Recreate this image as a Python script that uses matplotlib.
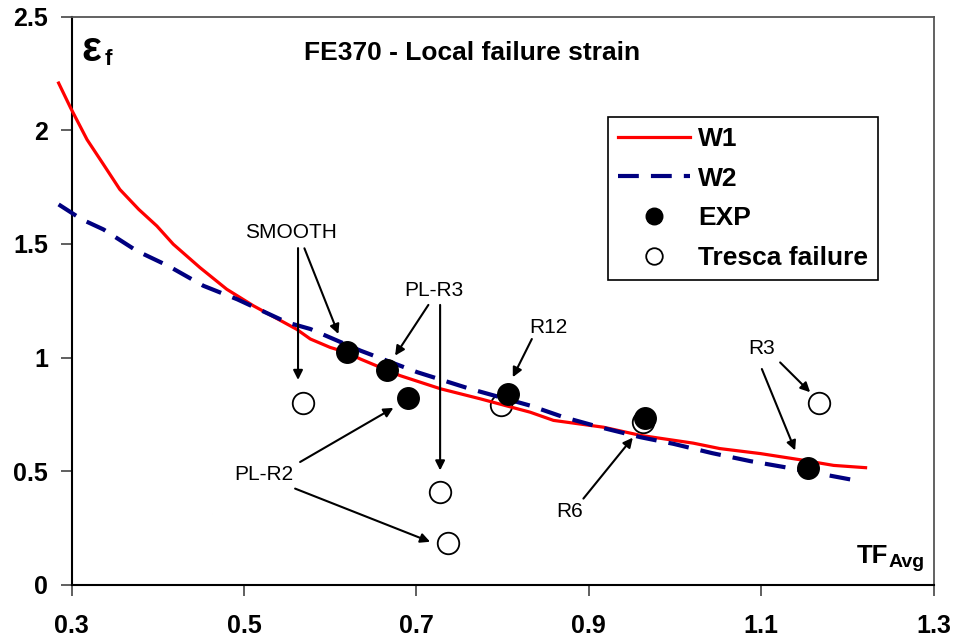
import numpy as np
import matplotlib
matplotlib.use("Agg")
import matplotlib.pyplot as plt

plt.rcParams['font.family'] = ['Liberation Sans', 'DejaVu Sans']

# ---- data ----
w1_x = [0.285, 0.299, 0.318, 0.337, 0.356, 0.378, 0.399, 0.418, 0.449, 0.480,
        0.511, 0.561, 0.577, 0.600, 0.619, 0.635, 0.681, 0.728, 0.774, 0.832, 0.859,
        0.917, 0.960, 1.021, 1.052, 1.099, 1.145, 1.184, 1.221]
w1_y = [2.208, 2.098, 1.959, 1.850, 1.740, 1.652, 1.579, 1.499, 1.396, 1.301,
        1.228, 1.125, 1.082, 1.045, 1.023, 0.994, 0.921, 0.863, 0.819, 0.760, 0.724,
        0.694, 0.658, 0.624, 0.600, 0.578, 0.551, 0.526, 0.516]

w2_x = [0.285, 0.312, 0.337, 0.376, 0.412, 0.453, 0.492, 0.550, 0.577, 0.635,
        0.701, 0.762, 0.832, 0.871, 0.913, 0.960, 0.998, 1.043, 1.087, 1.126, 1.215]
w2_y = [1.674, 1.608, 1.564, 1.469, 1.404, 1.316, 1.257, 1.155, 1.126, 1.031,
        0.936, 0.863, 0.789, 0.738, 0.694, 0.650, 0.621, 0.580, 0.545, 0.519, 0.456]

exp_x = [0.620, 0.666, 0.690, 0.806, 0.965, 1.154]
exp_y = [1.026, 0.946, 0.822, 0.838, 0.734, 0.514]

tresca_x = [0.568, 0.7275, 0.737, 0.798, 0.963, 1.167]
tresca_y = [0.800, 0.409, 0.184, 0.790, 0.716, 0.800]

x_ticks = [0.3, 0.5, 0.7, 0.9, 1.1, 1.3]
x_tick_labels = ['0.3', '0.5', '0.7', '0.9', '1.1', '1.3']
y_ticks = [0, 0.5, 1, 1.5, 2, 2.5]
y_tick_labels = ['0', '0.5', '1', '1.5', '2', '2.5']

# annotation labels and their positions
ann_labels = ['SMOOTH', 'PL-R3', 'R12', 'R3', 'R6', 'PL-R2']
ann_pos = [(0.555, 1.55), (0.720, 1.294), (0.853, 1.132), (1.101, 1.041),
           (0.878, 0.322), (0.5225, 0.487)]
arrow_tails = [(0.5627, 1.482), (0.5701, 1.481), (0.7139, 1.232), (0.7275, 1.232),
               (0.8339, 1.082), (1.1007, 0.950), (1.1219, 0.979), (0.8937, 0.380),
               (0.5651, 0.541), (0.5593, 0.424)]
arrow_heads = [(0.5627, 0.902), (0.6095, 1.104), (0.6753, 1.009), (0.7275, 0.504),
               (0.8118, 0.914), (1.1393, 0.592), (1.1567, 0.848), (0.951, 0.648),
               (0.6733, 0.779), (0.7159, 0.190)]

# ---- figure ----
fig = plt.figure(figsize=(9.54, 6.41), dpi=100)
ax = fig.add_axes([0.075, 0.0874, 0.9037, 0.8866])
ax.set_xlim(0.3, 1.3)
ax.set_ylim(0, 2.5)

ax.plot(w1_x, w1_y, color='#ff0000', lw=2.3, zorder=3, clip_on=False, label='W1')
ax.plot(w2_x, w2_y, color='#000080', lw=3, linestyle=(0, (5.0, 2.9)),
        zorder=3, clip_on=False, label='W2')
ax.plot(exp_x, exp_y, 'o', color='black', markersize=15.5, zorder=5, label='EXP',
        linestyle='none')
ax.plot(tresca_x, tresca_y, 'o', markerfacecolor='white', markeredgecolor='black',
        markeredgewidth=1.3, markersize=15.5, zorder=2, label='Tresca failure',
        linestyle='none')

for (tx, ty), (hx, hy) in zip(arrow_tails, arrow_heads):
    ax.annotate('', xy=(hx, hy), xytext=(tx, ty),
                arrowprops=dict(arrowstyle='-|>', color='black', lw=1.5,
                                mutation_scale=14, shrinkA=0, shrinkB=0),
                zorder=6)
for lab, (px, py) in zip(ann_labels, ann_pos):
    ax.text(px, py, lab, ha='center', va='center', fontsize=15, zorder=7)

ax.set_xticks(x_ticks)
ax.set_xticklabels(x_tick_labels, fontsize=18, fontweight='bold')
ax.set_yticks(y_ticks)
ax.set_yticklabels(y_tick_labels, fontsize=18, fontweight='bold')
ax.tick_params(axis='both', direction='out', length=8, width=1.2, color='#444444')
ax.tick_params(axis='x', pad=13)
ax.tick_params(axis='y', pad=9)

for side in ['left', 'bottom']:
    ax.spines[side].set_color('black')
    ax.spines[side].set_linewidth(1.5)
for side in ['top', 'right']:
    ax.spines[side].set_color('#555555')
    ax.spines[side].set_linewidth(1.3)

# title and axis symbols
ax.text(0.3 + (472 - 71.5) / 862, 2.34, 'FE370 - Local failure strain',
        ha='center', va='center', fontsize=19, fontweight='bold')
ax.text(0.3118, 2.303, 'ε', ha='left', va='baseline', fontsize=30, fontweight='bold')
ax.text(0.3389, 2.288, 'f', ha='left', va='baseline', fontsize=16, fontweight='bold')
ax.text(1.2109, 0.098, 'TF', ha='left', va='baseline', fontsize=18.5, fontweight='bold')
ax.text(1.2473, 0.080, 'Avg', ha='left', va='baseline', fontsize=14, fontweight='bold')

leg = ax.legend(loc='upper left', bbox_to_anchor=(0.6227, 0.823),
                prop={'weight': 'bold', 'size': 19}, frameon=True, fancybox=False,
                edgecolor='black', framealpha=1, handlelength=2.75,
                handletextpad=0.3, borderpad=0.36, labelspacing=0.6,
                markerscale=0.77, borderaxespad=0)
leg.get_frame().set_linewidth(1.2)

fig.savefig('out.png', dpi=100)
